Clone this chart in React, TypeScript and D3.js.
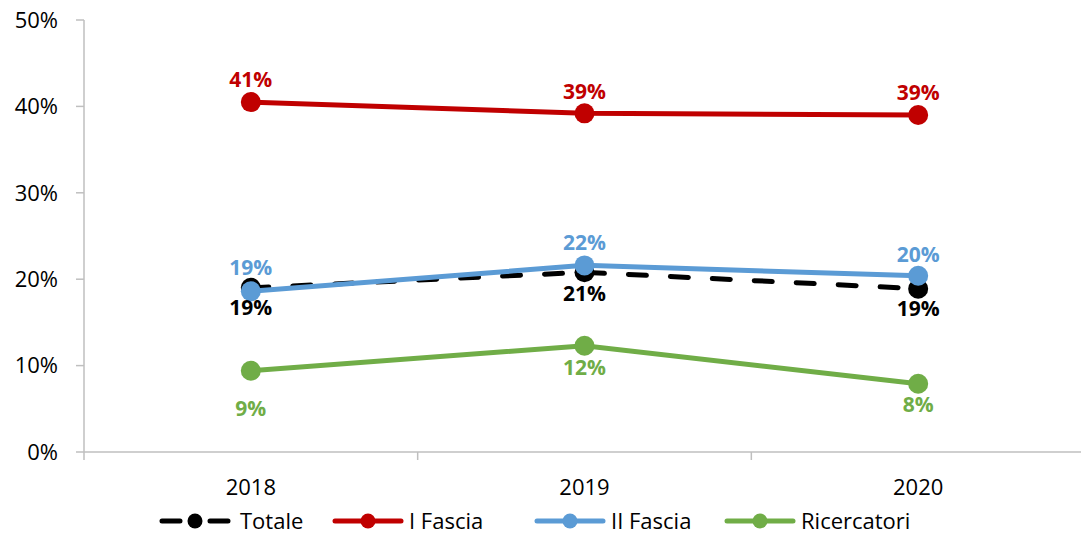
import * as d3 from "d3";
import React from "react";

const years = ["2018", "2019", "2020"];
const seriesNames = ["Totale", "I Fascia", "II Fascia", "Ricercatori"];
const totale = [0.19, 0.208, 0.189];
const primaFascia = [0.405, 0.392, 0.39];
const secondaFascia = [0.186, 0.216, 0.204];
const ricercatori = [0.094, 0.123, 0.079];
const yTicks = [0, 0.1, 0.2, 0.3, 0.4, 0.5];

const colors = ["#000000", "#c00000", "#5b9bd5", "#70ad47"];
// label offset from the point, negative = above
const labelDy = [
  [20, 21, 20],
  [-22, -22, -22],
  [-24, -23, -21],
  [38, 22, 21],
];

const W = 1081;
const H = 535;
const FONT = "'Open Sans', sans-serif";

const App = () => {
  const values = [totale, primaFascia, secondaFascia, ricercatori];

  const x = d3.scaleBand().domain(years).range([84, 1085]);
  const y = d3.scaleLinear().domain([0, 0.5]).range([452, 20]);
  const cx = (d) => x(d) + x.bandwidth() / 2;

  const line = d3
    .line()
    .x((d) => cx(d[0]))
    .y((d) => y(d[1]));

  const fmt = d3.format(".0%");

  // legend: line start, text start
  const legendLine = [162, 335, 537, 727];
  const legendText = [240, 409, 611, 801];

  return (
    <svg
      width={W}
      height={H}
      style={{ position: "absolute", left: 0, top: 0, background: "#fff" }}
      fontFamily={FONT}
    >
      {/* y axis */}
      <line x1={84} x2={84} y1={20} y2={452} stroke="#bfbfbf" strokeWidth={1.5} />
      {yTicks.map((t) => (
        <g key={t}>
          <line x1={76} x2={84} y1={y(t)} y2={y(t)} stroke="#bfbfbf" strokeWidth={1.5} />
          <text x={58} y={y(t)} dy="0.35em" textAnchor="end" fontSize={22} fill="#000">
            {fmt(t)}
          </text>
        </g>
      ))}

      {/* x axis */}
      <line x1={84} x2={1085} y1={452} y2={452} stroke="#bfbfbf" strokeWidth={1.5} />
      {years.map((yr) => (
        <g key={yr}>
          <line x1={x(yr)} x2={x(yr)} y1={452} y2={460} stroke="#bfbfbf" strokeWidth={1.5} />
          <text x={cx(yr)} y={487} dy="0.35em" textAnchor="middle" fontSize={22} fill="#000">
            {yr}
          </text>
        </g>
      ))}

      {/* series */}
      {values.map((vals, i) => {
        const pts = years.map((yr, j) => [yr, vals[j]]);
        return (
          <g key={seriesNames[i]}>
            <path
              d={line(pts)}
              fill="none"
              stroke={colors[i]}
              strokeWidth={5}
              strokeLinecap="round"
              strokeDasharray={i === 0 ? "18,24" : undefined}
            />
            {pts.map((p) => (
              <circle key={p[0]} cx={cx(p[0])} cy={y(p[1])} r={10} fill={colors[i]} />
            ))}
          </g>
        );
      })}

      {/* data labels */}
      {values.map((vals, i) =>
        years.map((yr, j) => (
          <text
            key={seriesNames[i] + yr}
            x={cx(yr)}
            y={y(vals[j]) + labelDy[i][j]}
            dy="0.35em"
            textAnchor="middle"
            fontSize={21}
            fontWeight="bold"
            fill={colors[i]}
          >
            {fmt(vals[j])}
          </text>
        ))
      )}

      {/* legend */}
      {seriesNames.map((name, i) => (
        <g key={name} transform="translate(0,521)">
          <line
            x1={legendLine[i]}
            x2={legendLine[i] + 66}
            y1={0}
            y2={0}
            stroke={colors[i]}
            strokeWidth={5}
            strokeLinecap="round"
            strokeDasharray={i === 0 ? "18,30" : undefined}
          />
          <circle cx={legendLine[i] + 33} cy={0} r={7.5} fill={colors[i]} />
          <text x={legendText[i]} y={0} dy="0.35em" fontSize={22} fill="#000">
            {name}
          </text>
        </g>
      ))}
    </svg>
  );
};

export default App;
